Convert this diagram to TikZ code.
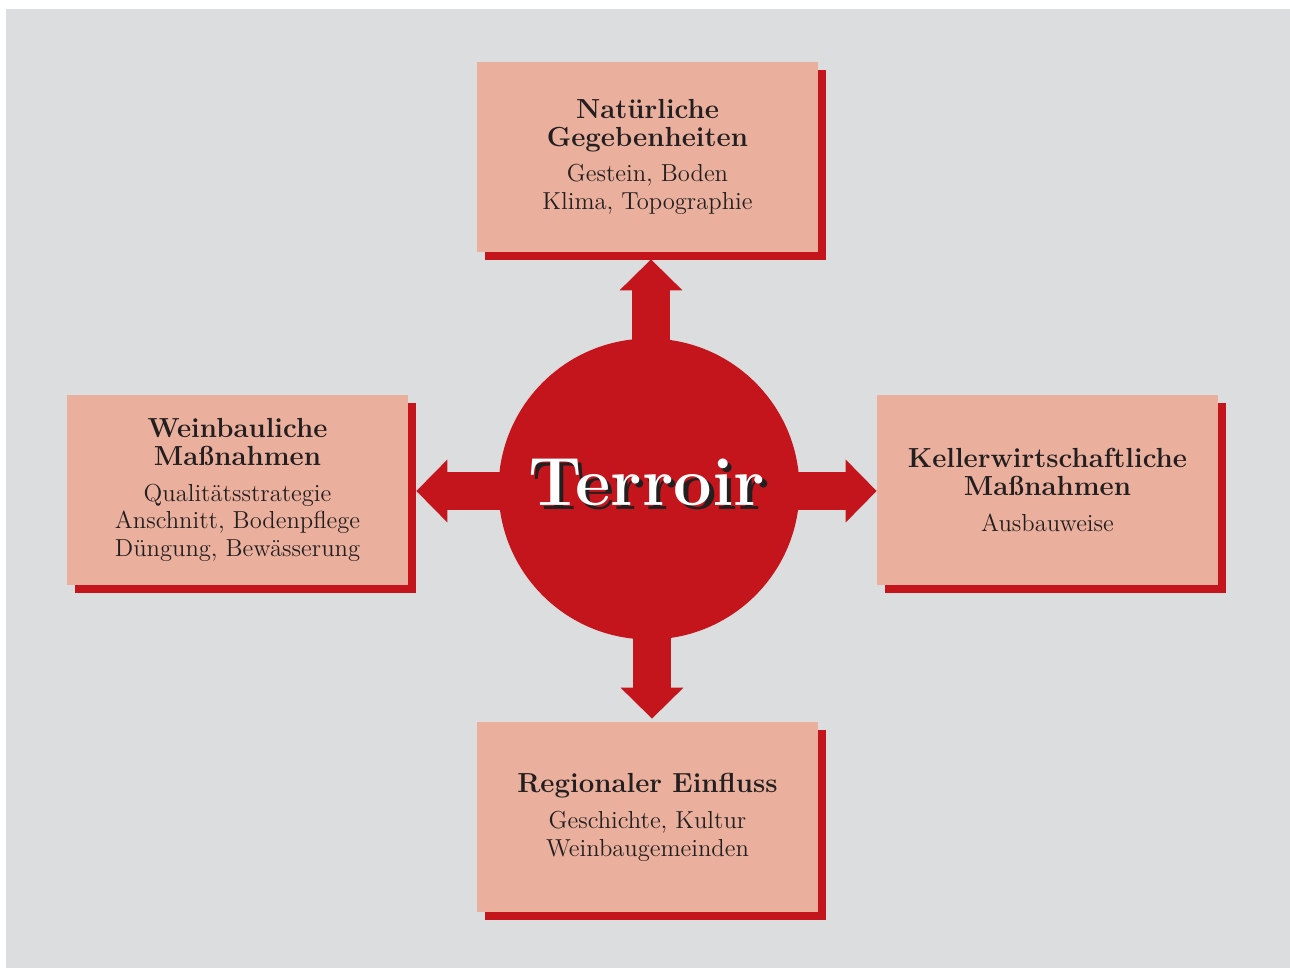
\documentclass[tikz,border=0pt]{standalone}
\usepackage{tikz}
\usetikzlibrary{arrows.meta}
\usetikzlibrary{backgrounds}
\usetikzlibrary{shadows}
\definecolor{terbg}{HTML}{DCDDDF}
\definecolor{tersalmon}{HTML}{EAB09D}
\definecolor{terred}{HTML}{C4151C}
\definecolor{terdark}{HTML}{231F20}
\newcommand{\boxtitle}[1]{{\fontsize{15.7}{15.7}\selectfont\bfseries #1}}
\newcommand{\dropword}[1]{\makebox[0pt][l]{\hspace{2.3pt}\raisebox{-2.3pt}{\textcolor{terdark}{#1}}}#1}

\begin{document}
\begin{tikzpicture}[x=0.02cm, y=-0.02cm,
        factor/.style={fill=tersalmon, minimum width=6.82cm, minimum height=3.8cm, inner sep=0pt,
            align=center, text=terdark, font=\fontsize{14}{15.9}\selectfont,
            general shadow={fill=terred, shadow xshift=0.16cm, shadow yshift=-0.16cm}},
        push/.style={draw=terred, line width=0.76cm, -{Triangle[length=0.62cm, width=1.22cm]}}]
        \useasboundingbox (0, 0) rectangle (1290, 969);

        \node[circle, fill=terred, minimum size=6.02cm, inner sep=0pt] (terroir) at (649, 489) {};
        \node[anchor=base, text=white, font=\fontsize{39}{39}\selectfont\bfseries] (terroirlabel) at (647, 505) {\dropword{Terroir}};

        \node[factor] (natur) at (647.5, 157)
            {\boxtitle{Natürliche}\\\boxtitle{Gegebenheiten}\\[4.5pt]Gestein, Boden\\Klima, Topographie};
        \node[factor] (weinbau) at (237.5, 490)
            {\boxtitle{Weinbauliche}\\\boxtitle{Maßnahmen}\\[4.5pt]Qualitätsstrategie\\Anschnitt, Bodenpflege\\Düngung, Bewässerung};
        \node[factor] (keller) at (1047.5, 490)
            {\boxtitle{Kellerwirtschaftliche}\\\boxtitle{Maßnahmen}\\[4.5pt]Ausbauweise};
        \node[factor] (region) at (647.5, 817)
            {\boxtitle{Regionaler Einfluss}\\[4.5pt]Geschichte, Kultur\\Weinbaugemeinden};

        \begin{scope}[on background layer]
            \fill[terbg] (6, 9) rectangle (1290, 968);
            \draw[push, shorten >=0.14cm] ([xshift=0.04cm]terroir.center) -- ([xshift=0.04cm]terroir.center |- natur.south);
            \draw[push, shorten >=0.06cm] ([xshift=0.06cm]terroir.center) -- ([xshift=0.06cm]terroir.center |- region.north);
            \draw[push] ([yshift=-0.04cm]terroir.center) -- ([yshift=-0.04cm]terroir.center -| keller.west);
            \draw[push, shorten >=0.16cm] ([yshift=-0.04cm]terroir.center) -- ([yshift=-0.04cm]terroir.center -| weinbau.east);
        \end{scope}
    \end{tikzpicture}
\end{document}
